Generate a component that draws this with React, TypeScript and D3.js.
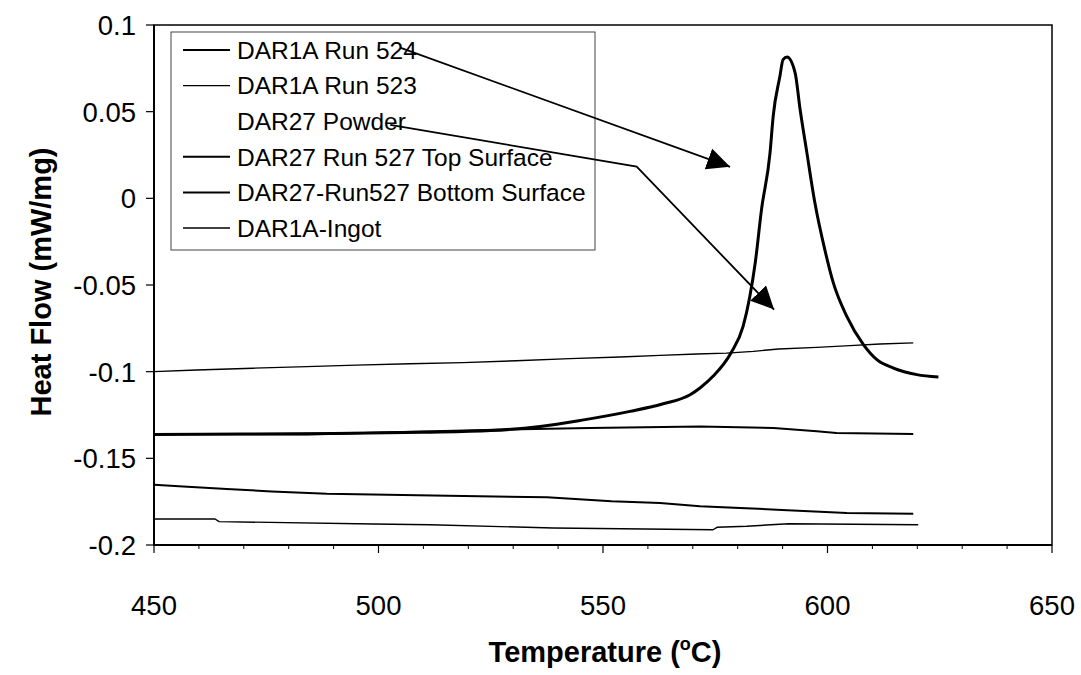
import React from "react";
import * as d3 from "d3";

// ---------- data ----------
const X_TICKS = [450, 500, 550, 600, 650];
const X_MINOR = [460, 470, 480, 490, 510, 520, 530, 540, 560, 570, 580, 590, 610, 620, 630, 640];
const Y_TICKS = [0.1, 0.05, 0, -0.05, -0.1, -0.15, -0.2];
const Y_TICK_LABELS = ["0.1", "0.05", "0", "-0.05", "-0.1", "-0.15", "-0.2"];

const LEGEND_NAMES = [
  "DAR1A Run 524",
  "DAR1A Run 523",
  "DAR27 Powder",
  "DAR27 Run 527 Top Surface",
  "DAR27-Run527 Bottom Surface",
  "DAR1A-Ingot",
];

// DAR1A Run 524 (melting peak)
const run524T = [450, 470, 490, 510, 525, 536, 545, 556, 563.4, 569.4, 571.6, 574.5, 578.5, 581.2, 582.7, 583.9, 585.3, 587.2, 587.9, 589.4, 590.1, 591.0, 592.8, 593.9, 595.3, 597.2, 599.4, 601.3, 604.3, 608.0, 611.0, 614.7, 619.9, 624.7];
const run524V = [-0.1362, -0.136, -0.1357, -0.135, -0.134, -0.1316, -0.1281, -0.1229, -0.1185, -0.1133, -0.1094, -0.1027, -0.0892, -0.0739, -0.0566, -0.0373, -0.0065, 0.0262, 0.0473, 0.0704, 0.08, 0.0815, 0.0723, 0.0512, 0.0281, -0.0027, -0.0296, -0.0488, -0.0681, -0.0844, -0.0931, -0.0979, -0.1017, -0.1031];

// DAR1A Run 523
const run523T = [450, 459.5, 472, 484, 495, 507, 518.8, 530.7, 542.6, 553.8, 562.7, 570.9, 577.5, 583.5, 589.1, 597.6, 605, 611.7, 619.1];
const run523V = [-0.1, -0.099, -0.098, -0.0971, -0.0962, -0.0954, -0.0948, -0.0937, -0.0925, -0.0915, -0.0906, -0.0898, -0.0893, -0.0883, -0.0869, -0.086, -0.085, -0.084, -0.0834];

// DAR27 Run 527 Top Surface
const topT = [450, 484, 503, 526, 547, 571.6, 588, 597.6, 602, 619.1];
const topV = [-0.1359, -0.1362, -0.135, -0.1335, -0.1325, -0.1316, -0.1325, -0.1344, -0.1354, -0.1359];

// DAR27-Run527 Bottom Surface
const bottomT = [450, 456.5, 466.2, 476.2, 488.5, 512.1, 537.5, 551.9, 562.7, 571.6, 588.7, 604.3, 619.1];
const bottomV = [-0.1652, -0.1662, -0.1677, -0.1691, -0.1704, -0.1715, -0.1725, -0.1748, -0.1757, -0.1777, -0.1796, -0.1815, -0.1819];

// DAR1A-Ingot
const ingotT = [450, 463.6, 464.5, 498.8, 511.5, 538.9, 574.5, 575.4, 582, 591.3, 620.2];
const ingotV = [-0.185, -0.185, -0.1865, -0.1879, -0.1883, -0.1902, -0.1912, -0.1898, -0.1892, -0.1877, -0.1883];

// annotation arrows (data coordinates)
const ARROW1 = [[504.8, 0.0869], [578.3, 0.0182]];
const ARROW2 = [[502.6, 0.0424], [557.5, 0.0183], [588.1, -0.0642]];

// ---------- layout ----------
const W = 1081, H = 675;
const M = { left: 154, right: 1052, top: 25, bottom: 545 };
const FONT = "'Liberation Sans', Arial, sans-serif";

export default function App() {
  const x = d3.scaleLinear().domain([450, 650]).range([M.left, M.right]);
  const y = d3.scaleLinear().domain([-0.2, 0.1]).range([M.bottom, M.top]);
  const line = d3.line<[number, number]>().x((d) => x(d[0])).y((d) => y(d[1]));
  const peakLine = d3.line<[number, number]>().x((d) => x(d[0])).y((d) => y(d[1])).curve(d3.curveMonotoneX);
  const zip = (t: number[], v: number[]) => t.map((tt, i) => [tt, v[i]] as [number, number]);

  const series = [
    { name: LEGEND_NAMES[0], d: peakLine(zip(run524T, run524V)), w: 3 },
    { name: LEGEND_NAMES[1], d: line(zip(run523T, run523V)), w: 1.4 },
    { name: LEGEND_NAMES[3], d: line(zip(topT, topV)), w: 2 },
    { name: LEGEND_NAMES[4], d: line(zip(bottomT, bottomV)), w: 2 },
    { name: LEGEND_NAMES[5], d: line(zip(ingotT, ingotV)), w: 1.4 },
  ];
  const legendW = [2.2, 1.2, 0, 2, 2, 1.4];

  const arrowPath = (pts: number[][]) => line(pts.map((p) => [p[0], p[1]] as [number, number]));

  return (
    <svg width={W} height={H} style={{ position: "absolute", left: 0, top: 0, background: "#fff" }} fontFamily={FONT}>
      <defs>
        <marker id="ah" markerUnits="userSpaceOnUse" markerWidth="24" markerHeight="22" refX="23" refY="11" orient="auto">
          <path d="M0,0 L23,11 L0,22 Z" fill="#000" />
        </marker>
      </defs>
      <rect x={0} y={0} width={W} height={H} fill="#fff" />

      {/* series */}
      <g fill="none" stroke="#000" strokeLinejoin="round">
        {series.map((s) => (
          <path key={s.name} d={s.d || ""} strokeWidth={s.w} />
        ))}
      </g>

      {/* plot frame */}
      <rect x={M.left} y={M.top} width={M.right - M.left} height={M.bottom - M.top} fill="none" stroke="#000" strokeWidth={1.5} />
      <line x1={M.left} x2={M.left} y1={M.top} y2={M.bottom} stroke="#000" strokeWidth={2} />
      <line x1={M.left} x2={M.right} y1={M.bottom} y2={M.bottom} stroke="#000" strokeWidth={2} />

      {/* y ticks */}
      {Y_TICKS.map((t, i) => (
        <g key={"y" + t}>
          <line x1={M.left - 8} x2={M.left} y1={y(t)} y2={y(t)} stroke="#000" strokeWidth={1.2} />
          <text x={M.left - 18} y={y(t)} dy="0.36em" textAnchor="end" fontSize={27.5} fill="#000">
            {Y_TICK_LABELS[i]}
          </text>
        </g>
      ))}

      {/* x ticks */}
      {X_MINOR.map((t) => (
        <line key={"xm" + t} x1={x(t)} x2={x(t)} y1={M.bottom} y2={M.bottom + 4} stroke="#000" strokeWidth={1} />
      ))}
      {X_TICKS.map((t) => (
        <g key={"x" + t}>
          <line x1={x(t)} x2={x(t)} y1={M.bottom} y2={M.bottom + 8} stroke="#000" strokeWidth={1.2} />
          <text x={x(t)} y={M.bottom + 70} textAnchor="middle" fontSize={27.5} fill="#000">
            {t}
          </text>
        </g>
      ))}

      {/* axis titles */}
      <text x={605} y={662} textAnchor="middle" fontSize={29} fontWeight="bold" fill="#000">
        Temperature (<tspan fontSize={18} dy={-12}>o</tspan><tspan dy={12}>C)</tspan>
      </text>
      <text transform={`translate(51,${282}) rotate(-90)`} textAnchor="middle" fontSize={29} fontWeight="bold" fill="#000">
        Heat Flow (mW/mg)
      </text>

      {/* legend */}
      <rect x={171} y={32} width={424} height={218} fill="#fff" stroke="#444" strokeWidth={1} />
      {LEGEND_NAMES.map((n, i) => {
        const cy = 50 + i * 35.6;
        return (
          <g key={n}>
            {legendW[i] > 0 && <line x1={183} x2={230} y1={cy} y2={cy} stroke="#000" strokeWidth={legendW[i]} />}
            <text x={237} y={cy} dy="0.36em" fontSize={24.5} fill="#000">
              {n}
            </text>
          </g>
        );
      })}

      {/* arrows */}
      <path d={arrowPath(ARROW1) || ""} fill="none" stroke="#000" strokeWidth={1.8} markerEnd="url(#ah)" />
      <path d={arrowPath(ARROW2) || ""} fill="none" stroke="#000" strokeWidth={1.8} markerEnd="url(#ah)" />
    </svg>
  );
}
